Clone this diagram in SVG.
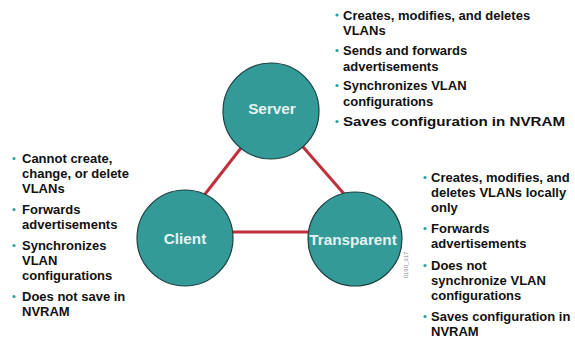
<svg xmlns="http://www.w3.org/2000/svg" width="575" height="341" viewBox="0 0 575 341">
<style>
.t{font-family:"Liberation Sans",Arial,Helvetica,sans-serif;font-weight:bold;font-size:13px;fill:#111}
.lbl{font-family:"Liberation Sans",Arial,Helvetica,sans-serif;font-weight:bold;font-size:15.3px;fill:#e6f3f2;text-anchor:middle}
.node{fill:#339a98;stroke:#1d4040;stroke-width:1.2}
.link{stroke:#c0303a;stroke-width:3;fill:none}
.b{fill:#2f9f9c}
</style>
<rect width="575" height="341" fill="#ffffff"/>
<g id="connectors">
<line class="link" x1="255" y1="130" x2="195" y2="207"/>
<line class="link" x1="290" y1="132" x2="352" y2="203"/>
<line class="link" x1="200" y1="232" x2="340" y2="232"/>
</g>
<g id="server">
<circle class="node" cx="271" cy="111" r="48"/>
<text class="lbl" x="272" y="114">Server</text>
</g>
<g id="client">
<circle class="node" cx="185" cy="238" r="48"/>
<text class="lbl" x="185" y="244">Client</text>
</g>
<g id="transparent">
<circle class="node" cx="355" cy="239" r="47"/>
<text class="lbl" x="353" y="245">Transparent</text>
</g>
<g id="server-notes">
<circle class="b" cx="337" cy="15" r="1.6"/>
<text class="t" x="343" y="19.5">Creates, modifies, and deletes</text>
<text class="t" x="343" y="35">VLANs</text>
<circle class="b" cx="337" cy="50.5" r="1.6"/>
<text class="t" x="343" y="55">Sends and forwards</text>
<text class="t" x="343" y="70.5">advertisements</text>
<circle class="b" cx="337" cy="85.5" r="1.6"/>
<text class="t" x="343" y="90">Synchronizes VLAN</text>
<text class="t" x="343" y="105.5">configurations</text>
<circle class="b" cx="337" cy="121.5" r="1.6"/>
<text class="t" x="343" y="126" textLength="222" lengthAdjust="spacingAndGlyphs">Saves configuration in NVRAM</text>
</g>
<g id="client-notes">
<circle class="b" cx="14" cy="158.5" r="1.6"/>
<text class="t" x="22" y="163">Cannot create,</text>
<text class="t" x="22" y="178">change, or delete</text>
<text class="t" x="22" y="193">VLANs</text>
<circle class="b" cx="14" cy="209.5" r="1.6"/>
<text class="t" x="22" y="214">Forwards</text>
<text class="t" x="22" y="229">advertisements</text>
<circle class="b" cx="14" cy="245.5" r="1.6"/>
<text class="t" x="22" y="250">Synchronizes</text>
<text class="t" x="22" y="265">VLAN</text>
<text class="t" x="22" y="280">configurations</text>
<circle class="b" cx="14" cy="296.5" r="1.6"/>
<text class="t" x="22" y="301">Does not save in</text>
<text class="t" x="22" y="316">NVRAM</text>
</g>
<g id="transparent-notes">
<circle class="b" cx="425" cy="177.5" r="1.6"/>
<text class="t" x="431" y="182">Creates, modifies, and</text>
<text class="t" x="431" y="197">deletes VLANs locally</text>
<text class="t" x="431" y="212">only</text>
<circle class="b" cx="425" cy="228.5" r="1.6"/>
<text class="t" x="431" y="233">Forwards</text>
<text class="t" x="431" y="248">advertisements</text>
<circle class="b" cx="425" cy="265.5" r="1.6"/>
<text class="t" x="431" y="270">Does not</text>
<text class="t" x="431" y="285">synchronize VLAN</text>
<text class="t" x="431" y="300">configurations</text>
<circle class="b" cx="425" cy="316.5" r="1.6"/>
<text class="t" x="431" y="321">Saves configuration in</text>
<text class="t" x="431" y="336">NVRAM</text>
</g>
<text x="407.5" y="265" transform="rotate(-90 407.5 265)" text-anchor="middle" style="font-family:'Liberation Sans',Arial,sans-serif;font-size:6px;fill:#8a8a8a">0190_317</text>
</svg>
